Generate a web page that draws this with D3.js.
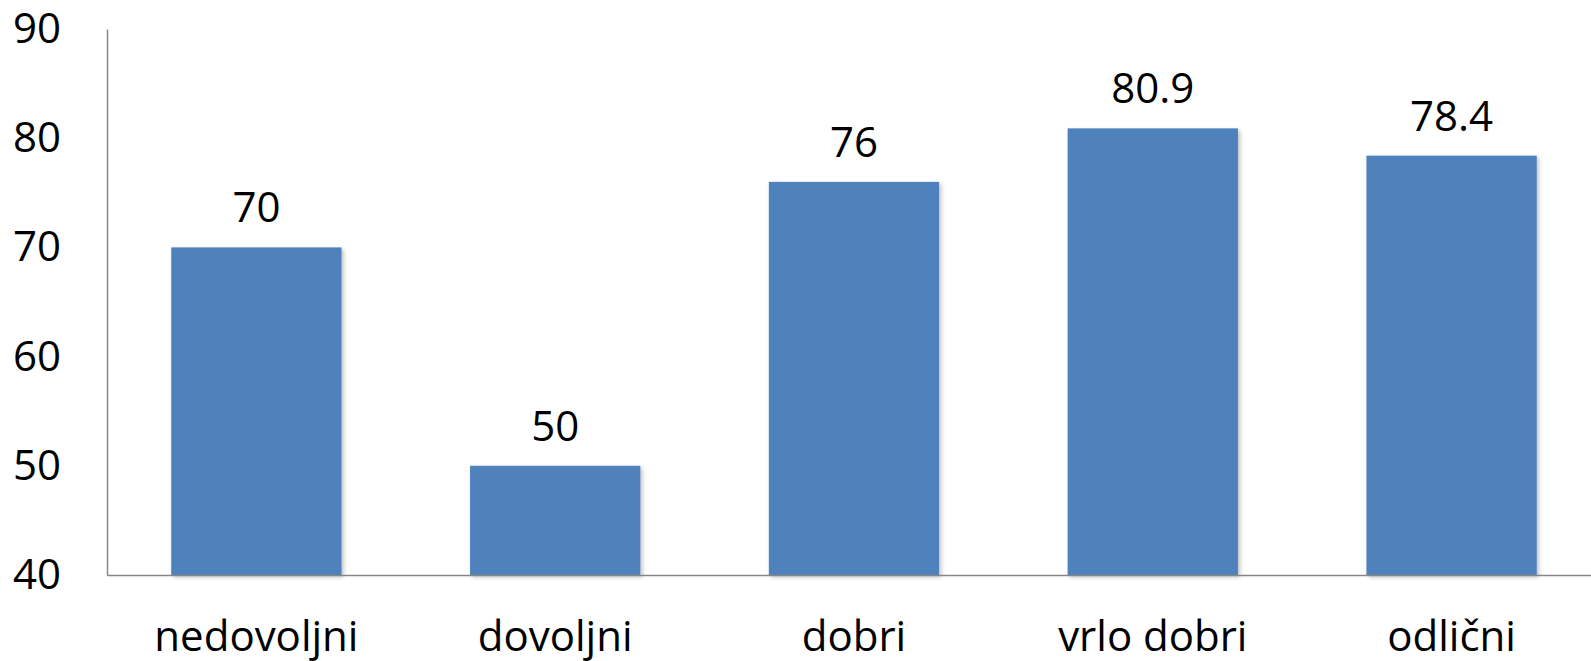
<!DOCTYPE html>
<html>
<head>
<meta charset="utf-8">
<script src="https://cdnjs.cloudflare.com/ajax/libs/d3/7.8.5/d3.min.js"></script>
<style>
	body { margin: 0; background: #fff; }
	text { font-family: "Open Sans", sans-serif; fill: #000; }
</style>
</head>
<body>
<div id="visual"></div>
<script>

///// DATA /////
var categories = ["nedovoljni", "dovoljni", "dobri", "vrlo dobri", "odlični"];
var values = [70, 50, 76, 80.9, 78.4];
var yTicks = [40, 50, 60, 70, 80, 90];

///// DIMENSIONS /////
var W = 1591, H = 661;
var margins = { left: 107, top: 29, bottom: 86 };
var plotBottom = H - margins.bottom;

var xScale = d3.scaleBand()
	.domain(categories)
	.range([margins.left, 1601])
	.paddingInner(0.43)
	.paddingOuter(0.215);

var yScale = d3.scaleLinear()
	.domain([40, 90])
	.range([plotBottom, margins.top]);

var svg = d3.select('#visual')
	.append('svg')
	.attr('width', W)
	.attr('height', H);

// soft shadow like the office chart
var defs = svg.append('defs');
var f = defs.append('filter').attr('id', 'shadow')
	.attr('x', '-5%').attr('y', '-5%').attr('width', '115%').attr('height', '115%');
f.append('feDropShadow')
	.attr('dx', 2).attr('dy', 2).attr('stdDeviation', 2)
	.attr('flood-color', '#000').attr('flood-opacity', 0.25);

///// BARS /////
svg.append('g').selectAll('rect')
	.data(values).enter().append('rect')
	.attr('x', (d, i) => xScale(categories[i]))
	.attr('y', d => yScale(d))
	.attr('width', xScale.bandwidth())
	.attr('height', d => plotBottom - yScale(d))
	.attr('fill', '#4f81bd')
	.attr('filter', 'url(#shadow)');

///// VALUE LABELS /////
svg.append('g').selectAll('text')
	.data(values).enter().append('text')
	.attr('x', (d, i) => xScale(categories[i]) + xScale.bandwidth() / 2)
	.attr('y', d => yScale(d) - 25)
	.attr('text-anchor', 'middle')
	.style('font-size', '42px')
	.text(d => d);

///// AXES /////
var yAxis = svg.append('g')
	.attr('transform', `translate(${margins.left},0)`)
	.call(d3.axisLeft(yScale).tickValues(yTicks).tickSize(0).tickPadding(46));
yAxis.select('.domain').attr('stroke', '#868686').attr('stroke-width', 1.5);
yAxis.selectAll('text').style('font-size', '42px').style('font-family', '"Open Sans", sans-serif');

var xAxis = svg.append('g')
	.attr('transform', `translate(0,${plotBottom})`)
	.call(d3.axisBottom(xScale).tickSize(0).tickPadding(46));
xAxis.select('.domain').attr('stroke', '#868686').attr('stroke-width', 1.5);
xAxis.selectAll('text').style('font-size', '42px').style('font-family', '"Open Sans", sans-serif');

</script>
</body>
</html>
